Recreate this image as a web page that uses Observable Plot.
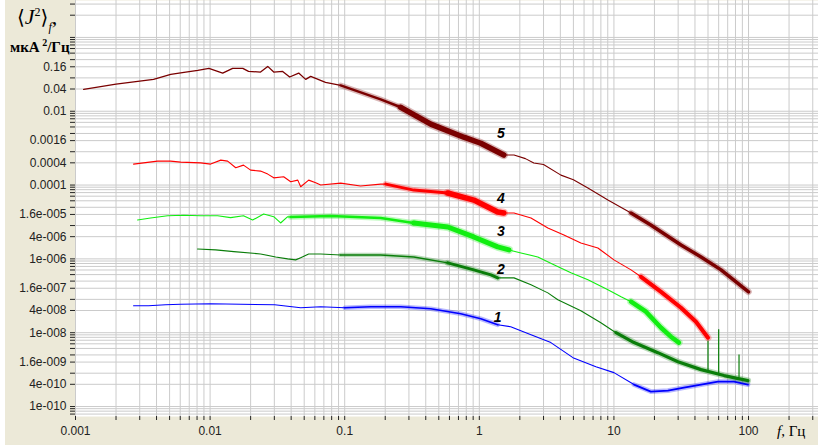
<!DOCTYPE html>
<html><head><meta charset="utf-8">
<script src="https://cdn.jsdelivr.net/npm/d3@7"></script>
<script src="https://cdn.jsdelivr.net/npm/@observablehq/plot@0.6"></script>
<style>
body{margin:0;background:#fff;}
#wrap{position:relative;width:818px;height:445px;background:#ECE9D8;overflow:hidden}
#chart{position:absolute;left:0;top:0}
#strip{position:absolute;left:0;top:0;width:5px;height:445px;background:#fff}
.lbl{position:absolute;font-family:"Liberation Serif","Times New Roman",serif;color:#000;white-space:nowrap;line-height:1}
</style></head>
<body>
<div id="wrap"><div id="chart"></div><div id="strip"></div>
<div class="lbl" style="left:17px;top:6px;font-size:22px"><span style="font-family:'DejaVu Serif';font-size:20px">⟨</span><i>J</i><sup style="font-size:12px;vertical-align:8px">2</sup><span style="font-family:'DejaVu Serif';font-size:20px">⟩</span><sub style="font-size:12px;vertical-align:-7px"><i>f</i></sub>,</div>
<div class="lbl" style="left:10px;top:38px;font-size:15px;font-weight:bold">мкА<sup style="font-size:10px;vertical-align:6px"> 2</sup>/Гц</div>
<div class="lbl" style="left:777px;top:424px;font-size:15px"><i>f</i>, Гц</div>
</div>
<script>
// ---- axis ticks ----
const xDecades = [0.001, 0.01, 0.1, 1, 10, 100];
const xDecadeLabels = ["0.001", "0.01", "0.1", "1", "10", "100"];
const xMultipliers = [1, 2, 3, 4, 5, 6, 7, 8, 9];
const yTicks = [0.16, 0.04, 0.01, 0.0016, 0.0004, 0.0001, 1.6e-5, 4e-6, 1e-6, 1.6e-7, 4e-8, 1e-8, 1.6e-9, 4e-10, 1e-10];
const yTickLabels = ["0.16", "0.04", "0.01", "0.0016", "0.0004", "0.0001", "1.6e-005", "4e-006", "1e-006", "1.6e-007", "4e-008", "1e-008", "1.6e-009", "4e-010", "1e-010"];
const yGridMultipliers = [1, 0.875, 0.75, 0.625, 0.5, 0.375, 0.25, 0.16, 0.08, 0.04];
const yGridPowers = [2, 0, -2, -4, -6, -8, -10];

// ---- series (f in Hz, value in uA^2/Hz) ----
// series 5
const s5_a = [[0.00115,0.039],[0.002,0.054],[0.003,0.065],[0.0038,0.073],[0.0051,0.1],[0.0064,0.113],[0.0081,0.128],[0.0098,0.145],[0.0124,0.108],[0.0147,0.145],[0.0175,0.145],[0.0193,0.12],[0.0237,0.115],[0.0268,0.164],[0.0297,0.115],[0.0346,0.12],[0.039,0.0845],[0.0455,0.108],[0.0513,0.073],[0.0559,0.088],[0.072,0.0605],[0.0934,0.05]];
const s5_n1 = [[0.0934,0.05],[0.185,0.021],[0.261,0.0128]];
const s5_n2 = [[0.261,0.0128],[0.436,0.00446],[0.767,0.00198],[1.026,0.00136],[1.52,0.00065]];
const s5_b = [[1.52,0.00065],[1.81,0.00065],[2.2,0.00052],[2.54,0.000394],[3.0,0.00036],[4.04,0.000186],[5.0,0.00014],[6.41,8.3e-5],[9.02,3.93e-5],[13.4,1.75e-5]];
const s5_n3 = [[13.4,1.75e-5],[18.8,8.3e-6],[31.5,2.39e-6],[44.4,1.13e-6],[62.5,5.04e-7],[100,1.28e-7]];
// series 4
const s4_a = [[0.0027,0.00037],[0.00407,0.000445],[0.00508,0.000445],[0.00604,0.000418],[0.0085,0.0004],[0.0101,0.00037],[0.012,0.000474],[0.0135,0.000445],[0.0155,0.000294],[0.0177,0.000347],[0.02,0.000254],[0.0237,0.000239],[0.0268,0.000198],[0.0297,0.000157],[0.0352,0.000168],[0.0397,0.000123],[0.0448,0.000136],[0.0471,9.0e-5],[0.054,0.000136],[0.0609,0.000115],[0.0663,0.0001],[0.0934,0.000113],[0.131,9.4e-5],[0.185,0.000106],[0.202,0.000106]];
const s4_n1 = [[0.202,0.000106],[0.326,7.3e-5],[0.583,6.1e-5]];
const s4_n2 = [[0.583,6.1e-5],[0.91,3.93e-5],[1.37,1.86e-5],[1.52,1.75e-5]];
const s4_b = [[1.52,1.75e-5],[1.81,1.75e-5],[2.42,1.28e-5],[3.23,6.9e-6],[4.25,4.46e-6],[5.68,2.71e-6],[7.6,1.98e-6],[10,9.4e-7],[13.4,5.04e-7],[15.9,3.27e-7]];
const s4_n3 = [[15.9,3.27e-7],[22.4,1.28e-7],[31.5,4.74e-8],[40.7,1.98e-8],[50,7.3e-9]];
// series 3
const s3_a = [[0.00289,1.13e-5],[0.00361,1.28e-5],[0.00483,1.48e-5],[0.00635,1.52e-5],[0.0085,1.48e-5],[0.01137,1.48e-5],[0.0142,1.31e-5],[0.0177,1.48e-5],[0.0207,1.13e-5],[0.025,1.64e-5],[0.0297,1.39e-5],[0.0334,9.4e-6],[0.0377,1.39e-5],[0.0397,1.36e-5]];
const s3_n1 = [[0.0397,1.36e-5],[0.0787,1.45e-5],[0.185,1.28e-5],[0.326,9.4e-6]];
const s3_n2 = [[0.326,9.4e-6],[0.583,7.3e-6],[0.91,3.93e-6],[1.37,2.11e-6],[1.66,1.75e-6]];
const s3_b = [[1.66,1.75e-6],[2.04,1.45e-6],[2.72,1.13e-6],[3.58,6.9e-7],[4.79,4.19e-7],[6.41,2.71e-7],[9.02,1.45e-7],[11.3,9.4e-8],[13.4,6.9e-8]];
const s3_n3 = [[13.4,6.9e-8],[17.3,3.7e-8],[22.4,1.36e-8],[26.5,7.8e-9],[30.4,5.4e-9]];
// series 2
const s2_a = [[0.00807,1.86e-6],[0.011,1.75e-6],[0.015,1.57e-6],[0.0237,1.36e-6],[0.0307,1.13e-6],[0.0377,1.0e-6],[0.0432,9.4e-7],[0.0471,1.08e-6],[0.054,1.36e-6],[0.0663,1.36e-6],[0.0934,1.28e-6]];
const s2_n1 = [[0.0934,1.28e-6],[0.185,1.28e-6],[0.326,1.13e-6],[0.583,7.8e-7]];
const s2_n2 = [[0.583,7.8e-7],[0.91,5.04e-7],[1.22,3.7e-7],[1.37,3.06e-7]];
const s2_b = [[1.37,3.06e-7],[1.81,3.06e-7],[2.42,1.98e-7],[3.23,1.2e-7],[3.83,7.8e-8],[5.68,3.93e-8],[8.0,1.86e-8],[10.35,1.0e-8]];
const s2_n3 = [[10.35,1.0e-8],[14.1,5.4e-9],[21.2,2.88e-9],[29.9,1.64e-9],[44.4,1.0e-9],[65.8,6.9e-10],[99.1,5.04e-10]];
const spikeF = [50, 60, 85];
const spikeBase = [9e-10, 7.5e-10, 6e-10];
const spikeTop = [6e-9, 1.2e-8, 2.5e-9];
// series 1
const s1_a = [[0.0027,5.37e-8],[0.00349,5.37e-8],[0.00467,5.7e-8],[0.00604,5.9e-8],[0.0101,6.1e-8],[0.0169,5.9e-8],[0.0302,5.7e-8],[0.0471,4.74e-8],[0.0663,5.04e-8],[0.1,4.74e-8]];
const s1_n1 = [[0.1,4.74e-8],[0.156,5.04e-8],[0.261,5.04e-8],[0.436,4.46e-8],[0.728,3.27e-8],[1.026,2.39e-8],[1.37,1.64e-8]];
const s1_b = [[1.37,1.64e-8],[1.71,1.45e-8],[2.42,8.8e-9],[3.40,5.4e-9],[4.96,2.11e-9],[7.35,1.2e-9],[10.0,8.3e-10],[14.1,3.93e-10]];
const s1_n2 = [[14.1,3.93e-10],[18.8,2.54e-10],[25.2,2.7e-10],[33.1,3.27e-10],[44.4,3.93e-10],[59.3,4.74e-10],[78,4.74e-10],[99.1,3.93e-10]];
// curve numbers
const labelText = ["1", "2", "3", "4", "5"];
const labelF = [1.37, 1.445, 1.445, 1.445, 1.445];
const labelV = [2.54e-8, 5.04e-7, 5.37e-6, 4.19e-5, 2.54e-3];

// ---- derived ----
const xDomain = [0.001, 331];
const yDomain = [5.37e-11, 10];
const xGrid = [];
for (const d of xDecades) for (const m of xMultipliers) { const v = +(d * m).toPrecision(6); if (v <= xDomain[1]) xGrid.push(v); }
const yGrid = [];
for (const p of yGridPowers) for (const m of yGridMultipliers) { const v = +(m * Math.pow(10, p)).toPrecision(6); if (v >= yDomain[0] && v <= yDomain[1]) yGrid.push(v); }
const near = (a, b) => Math.abs(a - b) / b < 1e-6;
const fx = d => d[0], fy = d => d[1];
const thin = (data, color, w = 1.1) => Plot.line(data, {x: fx, y: fy, stroke: color, strokeWidth: w, strokeLinejoin: "round"});
const noisy = (data, color, w) => [
  Plot.line(data, {x: fx, y: fy, stroke: color, strokeWidth: w + 3, strokeOpacity: 0.28, strokeLinejoin: "round"}),
  Plot.line(data, {x: fx, y: fy, stroke: color, strokeWidth: w, strokeLinejoin: "round"})
];
const c5 = "#7a0000", c4 = "#ff0000", c3 = "#11ee11", c2 = "#0a7d0a", c1 = "#0000ff";

const chart = Plot.plot({
  width: 818, height: 445,
  marginLeft: 75, marginRight: 0, marginTop: 0, marginBottom: 29,
  style: {background: "transparent", fontFamily: "'Liberation Sans', Arial, sans-serif", fontSize: "12px", color: "#222", overflow: "visible"},
  x: {type: "log", domain: xDomain},
  y: {type: "log", domain: yDomain},
  marks: [
    Plot.frame({fill: "white", stroke: "none"}),
    Plot.ruleX(xGrid, {stroke: "#cbcbcb", strokeWidth: 1}),
    Plot.ruleY(yGrid, {stroke: "#cbcbcb", strokeWidth: 1}),
    Plot.axisX({ticks: xGrid, tickSize: 4, tickPadding: 6, label: null, stroke: "#222",
      tickFormat: d => { const i = xDecades.findIndex(t => near(d, t)); return i >= 0 ? xDecadeLabels[i] : ""; }}),
    Plot.axisY({ticks: yGrid, tickSize: 5, tickPadding: 4, label: null, stroke: "#222",
      tickFormat: d => { const i = yTicks.findIndex(t => near(d, t)); return i >= 0 ? yTickLabels[i] : ""; }}),
    // series 1
    thin(s1_a, c1), ...noisy(s1_n1, c1, 1.6), thin(s1_b, c1), ...noisy(s1_n2, c1, 1.8),
    // series 2
    Plot.ruleX(spikeF, {x: d => d, y1: (d, i) => spikeBase[i], y2: (d, i) => spikeTop[i], stroke: c2, strokeWidth: 1.2}),
    thin(s2_a, c2), ...noisy(s2_n1, c2, 1.5), ...noisy(s2_n2, c2, 3), thin(s2_b, c2), ...noisy(s2_n3, c2, 3.2),
    // series 3
    thin(s3_a, c3), ...noisy(s3_n1, c3, 2.5), ...noisy(s3_n2, c3, 5), thin(s3_b, c3), ...noisy(s3_n3, c3, 4.5),
    // series 4
    thin(s4_a, c4), ...noisy(s4_n1, c4, 3), ...noisy(s4_n2, c4, 5.5), thin(s4_b, c4), ...noisy(s4_n3, c4, 4),
    // series 5
    thin(s5_a, c5, 1.3), ...noisy(s5_n1, c5, 2.5), ...noisy(s5_n2, c5, 5.5), thin(s5_b, c5), ...noisy(s5_n3, c5, 3.5),
    Plot.text(labelText, {x: (d, i) => labelF[i], y: (d, i) => labelV[i], text: d => d, fontWeight: "bold", fontStyle: "italic", fontSize: 14, fill: "black"})
  ]
});
document.getElementById("chart").append(chart);
</script>
</body></html>
